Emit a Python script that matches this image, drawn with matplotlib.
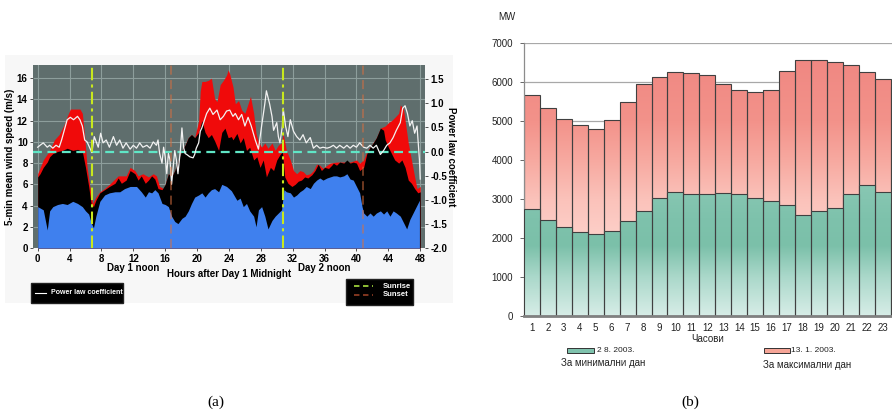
import numpy as np
import matplotlib
matplotlib.use("Agg")
import matplotlib.pyplot as plt
from matplotlib.colors import LinearSegmentedColormap
from matplotlib.patches import Rectangle
from matplotlib.lines import Line2D
from matplotlib import font_manager

# ---------------- data: panel (a) ----------------
blue_hours = [0.0, 0.7, 1.2, 1.5, 1.9, 2.5, 3.1, 3.7, 4.4, 5.0, 5.6, 6.0, 6.4, 6.7, 7.0, 7.3, 7.8, 8.4, 9.0, 9.7,
              10.3, 10.9, 11.6, 12.4, 13.0, 13.5, 13.9, 14.3, 14.7, 15.1, 15.6, 16.0, 16.4, 16.8, 17.2, 17.6, 18.1,
              18.5, 18.9, 19.3, 19.7, 20.2, 20.6, 21.0, 21.4, 21.8, 22.2, 22.7, 23.1, 23.7, 24.3, 25.0, 25.4, 25.8,
              26.2, 26.6, 27.1, 27.4, 27.7, 28.1, 28.5, 28.9, 29.4, 29.8, 30.2, 30.6, 30.9, 31.2, 31.7, 32.1, 32.5,
              32.9, 33.3, 33.7, 34.2, 34.6, 35.0, 35.4, 35.8, 36.3, 36.7, 37.1, 37.5, 37.9, 38.4, 38.8, 39.2, 39.6,
              40.0, 40.4, 40.7, 40.9, 41.3, 41.7, 42.1, 42.5, 43.0, 43.4, 43.8, 44.2, 44.6, 45.0, 45.5, 45.9, 46.3,
              46.7, 47.1, 47.5, 47.9]
blue_speed = [3.9, 3.6, 1.7, 3.5, 3.9, 4.1, 4.2, 4.1, 4.4, 4.2, 3.9, 3.5, 3.2, 2.4, 1.9, 3.0, 4.4, 5.0, 5.2, 5.3,
              5.3, 5.6, 5.8, 5.8, 5.3, 4.8, 5.3, 5.2, 5.5, 5.2, 4.2, 4.1, 3.9, 3.0, 2.5, 2.3, 2.8,
              3.0, 3.5, 4.2, 4.8, 5.0, 5.2, 4.8, 5.2, 5.5, 5.6, 5.3, 6.0, 5.8, 5.4, 4.5, 4.7, 3.9,
              4.2, 3.5, 3.0, 2.0, 3.6, 3.9, 3.0, 1.8, 2.6, 3.0, 3.3, 3.6, 5.5, 5.3, 5.2, 4.8, 5.0,
              5.3, 5.5, 5.8, 5.6, 6.1, 6.4, 6.6, 6.4, 6.6, 6.7, 6.8, 6.8, 6.7, 6.8, 7.0, 6.5, 6.4,
              5.8, 5.2, 3.9, 3.3, 3.0, 3.3, 3.0, 3.3, 3.5, 3.2, 3.5, 3.0, 3.5, 3.3, 3.0, 2.4, 1.8,
              2.7, 3.3, 3.9, 4.5]

black_hours = [0.0, 0.3, 0.7, 1.2, 1.5, 1.9, 2.5, 3.1, 3.7, 4.4, 5.0, 5.6, 6.0, 6.4, 6.7, 7.0, 7.3, 7.8, 8.4, 9.0,
               9.7, 10.1, 10.5, 11.1, 11.6, 12.2, 12.6, 13.0, 13.5, 13.9, 14.3, 14.7, 15.1, 15.6, 16.0, 16.4, 16.8,
               17.2, 17.6, 18.1, 18.5, 18.9, 19.3, 19.7, 20.2, 20.6, 21.0, 21.4, 21.8, 22.2, 22.7, 23.1, 23.5, 23.9,
               24.3, 24.5, 25.0, 25.4, 25.8, 26.2, 26.6, 27.1, 27.5, 27.9, 28.3, 28.7, 29.2, 29.6, 30.0, 30.4, 30.7,
               31.0, 31.4, 31.9, 32.3, 32.7, 33.1, 33.5, 33.9, 34.4, 34.8, 35.2, 35.6, 36.0, 36.5, 36.9, 37.1, 37.5,
               37.9, 38.4, 38.8, 39.2, 39.6, 40.0, 40.4, 40.9, 41.3, 41.7, 42.1, 42.5, 43.0, 43.4, 43.6, 44.0, 44.4,
               44.8, 45.3, 45.7, 46.1, 46.5, 46.9, 47.3, 47.7, 48.0]
black_speed = [6.7, 7.0, 7.6, 8.1, 8.6, 8.9, 9.1, 9.2, 9.4, 9.2, 9.3, 9.1, 7.6, 5.8, 4.2, 3.9, 4.5, 5.2, 5.5, 5.8,
               6.1, 6.6, 6.1, 6.4, 7.3, 7.0, 6.4, 6.8, 6.1, 6.4, 6.8, 6.5, 5.6, 5.5, 6.0, 7.0, 6.7,
               7.3, 8.2, 9.2, 9.7, 10.4, 10.7, 10.4, 10.9, 12.0, 10.9, 10.4, 10.7, 10.1, 9.2, 10.9, 11.3, 10.4,
               10.5, 10.2, 10.8, 9.9, 10.4, 9.2, 9.5, 8.3, 8.6, 7.6, 8.3, 6.7, 7.6, 7.3, 8.3, 8.8, 9.1,
               6.7, 6.1, 5.8, 6.0, 6.3, 6.4, 6.7, 6.6, 6.9, 7.3, 7.9, 7.3, 7.6, 7.5, 7.8, 8.0, 7.8,
               8.1, 8.0, 8.3, 8.0, 8.1, 8.0, 7.3, 7.6, 8.9, 9.5, 9.9, 10.4, 11.3, 11.1, 10.2, 9.5, 8.9,
               8.3, 8.0, 8.3, 7.6, 6.4, 6.1, 5.6, 5.2, 5.3]

red_hours = [0.0, 0.7, 1.5, 2.1, 2.7, 3.3, 3.7, 4.1, 4.7, 5.3, 5.6, 5.9, 6.2, 6.6, 6.9, 7.3, 7.8, 8.4, 9.0, 10.1,
             11.1, 11.6, 12.2, 12.6, 13.2, 13.9, 14.5, 14.9, 15.3, 15.8, 16.0, 16.4, 16.8, 17.2, 17.6, 18.1, 18.5,
             18.9, 19.3, 19.7, 20.2, 20.4, 20.6, 21.0, 21.4, 21.8, 22.2, 22.5, 22.9, 23.3, 23.7, 23.9, 24.1, 24.5,
             24.8, 25.2, 25.6, 26.0, 26.4, 26.7, 27.1, 27.4, 27.7, 28.1, 28.5, 28.9, 29.4, 29.8, 30.2, 30.6, 30.8,
             31.2, 31.7, 32.1, 32.5, 32.9, 33.3, 33.7, 34.2, 34.6, 35.0, 35.4, 35.8, 36.3, 36.7, 37.5, 38.4, 39.2,
             40.0, 40.4, 40.9, 41.3, 41.9, 42.5, 43.0, 43.6, 44.0, 44.4, 44.8, 45.3, 45.5, 45.9, 46.2, 46.5, 46.9,
             47.3, 47.6, 48.0]
red_speed = [7.0, 8.3, 9.2, 10.2, 10.7, 11.6, 12.4, 13.1, 13.1, 13.1, 12.7, 10.5, 7.6, 5.5, 4.2, 4.8, 5.3, 5.6, 6.0, 6.8,
             6.8, 7.6, 7.3, 6.8, 7.0, 6.7, 7.0, 6.8, 5.8, 5.6, 6.0, 7.0, 6.7, 7.3, 8.2, 9.2, 9.7,
             10.4, 10.7, 10.4, 12.0, 14.8, 15.7, 15.7, 15.8, 16.0, 14.1, 13.8, 15.4, 15.8, 16.3, 16.8, 16.4, 15.2,
             13.6, 13.9, 13.0, 12.7, 13.6, 14.3, 12.7, 10.8, 10.0, 9.5, 9.9, 9.4, 9.9, 9.2, 9.7, 9.9, 10.8,
             9.2, 8.3, 7.3, 7.0, 7.3, 7.2, 6.9, 7.0, 7.3, 7.9, 7.8, 7.5, 7.8, 8.0, 8.1, 8.1, 8.1,
             8.3, 8.0, 8.3, 9.1, 9.7, 10.4, 11.3, 11.5, 11.8, 12.0, 12.3, 12.7, 13.5, 13.1, 11.5, 9.9, 8.3,
             6.7, 5.6, 5.8]

pl_hours = [0.0, 0.3, 0.7, 1.2, 1.5, 1.9, 2.3, 2.7, 3.0, 3.3, 3.7, 4.1, 4.5, 5.0, 5.3, 5.6, 5.9, 6.2, 6.5, 6.8,
            7.1, 7.6, 7.9, 8.2, 8.6, 9.0, 9.5, 9.9, 10.3, 10.7, 11.1, 11.6, 12.0, 12.4, 12.8, 13.2, 13.7, 14.1,
            14.5, 14.9, 15.1, 15.3, 15.6, 15.8, 16.0, 16.2, 16.4, 16.6, 16.8, 17.0, 17.2, 17.4, 17.6, 17.9, 18.1,
            18.3, 18.5, 18.7, 19.1, 19.5, 19.7, 19.9, 20.2, 20.4, 20.6, 20.9, 21.2, 21.6, 22.0, 22.5, 22.9, 23.3,
            23.7, 24.1, 24.5, 24.8, 25.2, 25.6, 26.0, 26.4, 26.8, 27.3, 27.7, 28.1, 28.5, 28.7, 29.1, 29.4, 29.6,
            30.0, 30.2, 30.4, 30.7, 30.8, 31.1, 31.4, 31.7, 32.1, 32.5, 32.9, 33.3, 33.7, 34.2, 34.6, 35.0, 35.4,
            35.8, 36.3, 36.7, 37.1, 37.5, 37.9, 38.4, 38.8, 39.2, 39.6, 40.0, 40.4, 40.9, 41.3, 41.7, 42.1, 42.5,
            43.0, 43.4, 43.8, 44.2, 44.6, 45.0, 45.5, 45.8, 46.1, 46.4, 46.7, 47.0, 47.3, 47.6, 47.9, 48.0]
pl_coef = [0.09, 0.13, 0.18, 0.09, 0.13, 0.07, 0.13, 0.09, 0.24, 0.42, 0.66, 0.71, 0.66, 0.73, 0.66, 0.53, 0.24, 0.20,
           0.09, -0.02, 0.31, 0.09, 0.38, 0.18, 0.24, 0.09, 0.31, 0.13, 0.24, 0.07, 0.18, 0.05, 0.13, 0.07, 0.18,
           0.09, 0.13, 0.07, 0.20, 0.13, 0.24, -0.04, -0.24, 0.09, -0.11, -0.46, -0.04, -0.17, -0.68, -0.33, 0.02,
           -0.17, -0.46, 0.02, 0.49, 0.09, -0.04, -0.06, -0.11, -0.13, -0.06, 0.07, 0.18, 0.42, 0.49, 0.64, 0.79,
           0.90, 0.77, 0.86, 0.66, 0.73, 0.84, 0.86, 0.73, 0.79, 0.66, 0.77, 0.53, 0.71, 0.53, 0.24, 0.05, 0.53,
           0.99, 1.26, 0.99, 0.73, 0.44, 0.60, 0.31, 0.18, 0.53, 0.90, 0.53, 0.31, 0.66, 0.42, 0.31, 0.24, 0.35,
           0.18, 0.29, 0.07, 0.13, 0.07, 0.09, 0.07, 0.09, 0.13, 0.07, 0.13, 0.07, 0.13, 0.07, 0.13, 0.09, 0.18,
           0.09, 0.07, 0.13, 0.07, 0.13, -0.06, 0.02, 0.13, 0.18, 0.29, 0.44, 0.60, 0.90, 0.95, 0.79, 0.53, 0.64,
           0.38, 0.53, -0.17, -0.57]

sunrise_hours = [6.8, 30.8]
sunset_hours = [16.7, 40.8]
hour_ticks = [0, 4, 8, 12, 16, 20, 24, 28, 32, 36, 40, 44, 48]
speed_ticks = [0, 2, 4, 6, 8, 10, 12, 14, 16]
pl_ticks = [-2.0, -1.5, -1.0, -0.5, 0.0, 0.5, 1.0, 1.5]

# ---------------- data: panel (b) ----------------
hours_b = list(range(1, 25))
hour_labels_b = list(range(1, 24))   # the 24th label is cut off in the reference
min_day = [2730, 2450, 2280, 2140, 2110, 2170, 2420, 2680, 3020, 3170, 3120, 3120, 3140, 3120, 3020, 2940,
           2850, 2590, 2680, 2770, 3120, 3350, 3170, 2900]
max_day = [5670, 5335, 5045, 4900, 4795, 5020, 5490, 5935, 6135, 6255, 6230, 6170, 5935, 5790, 5730, 5790,
           6280, 6565, 6555, 6510, 6425, 6245, 6075, 5860]
mw_ticks = [0, 1000, 2000, 3000, 4000, 5000, 6000, 7000]

# ---------------- figure ----------------
W, H = 892, 413
fig = plt.figure(figsize=(W / 100, H / 100), dpi=100)


def fx(x):
    return x / W


def fy(y):
    return 1 - y / H


names = {f.name for f in font_manager.fontManager.ttflist}
NARROW = ['Liberation Sans Narrow', 'Liberation Sans', 'DejaVu Sans'] if 'Liberation Sans Narrow' in names \
    else ['Liberation Sans', 'DejaVu Sans']
SANS = ['Liberation Sans', 'DejaVu Sans']
SERIF = ['Liberation Serif', 'DejaVu Serif']

# faint panel background of (a)
fig.add_artist(Rectangle((fx(5), fy(303)), (453 - 5) / W, (303 - 55) / H, transform=fig.transFigure,
                         facecolor='#f7f7f7', edgecolor='none', zorder=-5))

# ---- panel (a)
ax1 = fig.add_axes([fx(33.3), fy(248), (425 - 33.3) / W, (248 - 65) / H])
ax1.set_facecolor('#5f6e6d')
ax1.set_xlim(-0.55, 48.6)
ax1.set_ylim(0, 17.25)
ax1.set_xticks(hour_ticks)
ax1.set_yticks(speed_ticks)
ax1.grid(True, color='#8d9e9c', linewidth=0.8)
ax1.set_axisbelow(True)
ax1.fill_between(red_hours, 0, red_speed, color='#f00a0a', linewidth=0, zorder=2)
ax1.fill_between(black_hours, 0, black_speed, color='#000000', linewidth=0, zorder=3)
ax1.fill_between(blue_hours, 0, blue_speed, color='#3f80ee', linewidth=0, zorder=4)
for s in ax1.spines.values():
    s.set_visible(False)
ax1.tick_params(axis='both', length=2, width=0.6, color='#333333', labelsize=7, pad=2)
for lab in ax1.get_xticklabels() + ax1.get_yticklabels():
    lab.set_fontfamily(NARROW)
    lab.set_fontweight('bold')
ax1.set_ylabel('5-min mean wind speed (m/s)', fontsize=7, fontweight='bold', family=NARROW, labelpad=1)

ax2 = ax1.twinx()
ax2.set_ylim(-2.0, -2.0 + 17.25 * 0.22)
ax2.set_yticks(pl_ticks)
ax2.set_yticklabels([f'{v:.1f}' for v in pl_ticks])
for s in ax2.spines.values():
    s.set_visible(False)
ax2.tick_params(axis='y', length=2, width=0.6, color='#333333', labelsize=7, pad=2)
for lab in ax2.get_yticklabels():
    lab.set_fontfamily(NARROW)
    lab.set_fontweight('bold')
ax2.set_ylabel('Power law coefficient', rotation=270, fontsize=7, fontweight='bold', family=NARROW, labelpad=6)
ax2.axhline(0.0, color='#5fe6c6', linewidth=1.6, linestyle=(0, (4, 2.5)), zorder=5)
ax2.plot(pl_hours, pl_coef, color='#f2f2f2', linewidth=0.9, zorder=6)
for h in sunset_hours:
    ax2.axvline(h, color='#d9703f', linewidth=1.3, linestyle=(0, (5, 3)), alpha=0.55, zorder=7)
for h in sunrise_hours:
    ax2.axvline(h, color='#c8e81e', linewidth=1.5, linestyle=(0, (6, 2, 1.5, 2)), zorder=7)

ax1.text(12, -1.45, 'Day 1 noon', ha='center', va='top', fontsize=7, fontweight='bold', family=NARROW,
         transform=ax1.transData)
ax1.text(36, -1.45, 'Day 2 noon', ha='center', va='top', fontsize=7, fontweight='bold', family=NARROW,
         transform=ax1.transData)
ax1.text(24, -2.0, 'Hours after Day 1 Midnight', ha='center', va='top', fontsize=7, fontweight='bold',
         family=NARROW, transform=ax1.transData)

# legend boxes of (a)
fig.add_artist(Rectangle((fx(31), fy(303)), (123 - 31) / W, (303 - 283) / H, transform=fig.transFigure,
                         facecolor='#000000', edgecolor='#222222', zorder=5))
fig.add_artist(Line2D([fx(35), fx(46)], [fy(293), fy(293)], transform=fig.transFigure, color='white',
                      linewidth=0.8, zorder=6))
fig.text(fx(51), fy(293), 'Power law coefficient', color='white', fontsize=5, fontweight='bold',
         family=NARROW, ha='left', va='center', zorder=6)
fig.add_artist(Rectangle((fx(346), fy(305)), (413 - 346) / W, (305 - 279) / H, transform=fig.transFigure,
                         facecolor='#000000', edgecolor='#222222', zorder=5))
fig.add_artist(Line2D([fx(354), fx(373)], [fy(286), fy(286)], transform=fig.transFigure, color='#9ccf3a',
                      linewidth=1.3, linestyle=(0, (3, 2)), zorder=6))
fig.add_artist(Line2D([fx(354), fx(373)], [fy(294.5), fy(294.5)], transform=fig.transFigure, color='#8a3a22',
                      linewidth=1.3, linestyle=(0, (3, 2)), zorder=6))
fig.text(fx(383), fy(286), 'Sunrise', color='white', fontsize=5.5, fontweight='bold', family=NARROW,
         ha='left', va='center', zorder=6)
fig.text(fx(383), fy(294.5), 'Sunset', color='white', fontsize=5.5, fontweight='bold', family=NARROW,
         ha='left', va='center', zorder=6)

# ---- panel (b)
bw = 15.94
ax3 = fig.add_axes([fx(524), fy(315.7), 24.1 * bw / W, (315.7 - 43) / H])
red_cmap = LinearSegmentedColormap.from_list('redg', [
    (0.0, '#fdd6cf'), (0.286, '#fdd0c9'), (0.429, '#fbc2ba'), (0.571, '#f7a9a0'),
    (0.714, '#f3928a'), (1.0, '#ef8580')])
green_cmap = LinearSegmentedColormap.from_list('greeng', [
    (0.0, '#d7ede7'), (0.143, '#aad8ca'), (0.257, '#7bc0a9'), (0.357, '#7ec2ac'),
    (0.5, '#8ac8b4'), (1.0, '#8ac8b4')])
grad = np.linspace(0, 1, 256).reshape(-1, 1)


def gradient_bars(ax, xs, vals, cmap, z):
    bars = ax.bar(xs, vals, width=1.0, color='none', edgecolor='#404040', linewidth=0.8, zorder=z + 0.5)
    for b in bars:
        im = ax.imshow(grad, cmap=cmap, origin='lower', extent=[0.5, 25.5, 0, 7000], aspect='auto',
                       interpolation='bilinear', zorder=z)
        im.set_clip_path(b)
    return bars


gradient_bars(ax3, hours_b, max_day, red_cmap, 2)
gradient_bars(ax3, hours_b, min_day, green_cmap, 3)
ax3.set_xlim(0.5, 24.6)
ax3.set_ylim(0, 7000)
ax3.set_yticks(mw_ticks)
ax3.set_xticks(hour_labels_b)
ax3.grid(True, axis='y', color='#a8a8a8', linewidth=0.9)
ax3.set_axisbelow(True)
for k in ['top', 'right']:
    ax3.spines[k].set_visible(False)
ax3.spines['left'].set_color('#8c8c8c')
ax3.spines['left'].set_linewidth(0.9)
ax3.spines['bottom'].set_color('#808080')
ax3.spines['bottom'].set_linewidth(2.0)
ax3.spines['bottom'].set_zorder(6)
ax3.tick_params(axis='y', length=3, width=0.7, color='#666666', labelsize=7, labelcolor='#222222', pad=5)
ax3.tick_params(axis='x', length=0, labelsize=7, labelcolor='#222222', pad=5)
for lab in ax3.get_xticklabels() + ax3.get_yticklabels():
    lab.set_fontfamily(SANS)

fig.text(fx(507), fy(17), 'MW', fontsize=7, family=SANS, color='#222222', ha='center', va='center')
fig.text(fx(708), fy(339), 'Часови', fontsize=7, family=SANS, color='#222222', ha='center', va='center')
fig.add_artist(Rectangle((fx(567), fy(353)), (594 - 567) / W, 5 / H, transform=fig.transFigure,
                         facecolor='#7fc2ad', edgecolor='#333333', linewidth=0.7))
fig.text(fx(597), fy(350.5), '2 8. 2003.', fontsize=6, family=SANS, color='#222222', ha='left', va='center')
fig.add_artist(Rectangle((fx(764), fy(353)), (790 - 764) / W, 5 / H, transform=fig.transFigure,
                         facecolor='#f6a597', edgecolor='#333333', linewidth=0.7))
fig.text(fx(791), fy(350.5), '13. 1. 2003.', fontsize=6, family=SANS, color='#222222', ha='left', va='center')
fig.text(fx(603), fy(363), 'За минимални дан', fontsize=7, family=SANS, color='#222222', ha='center',
         va='center')
fig.text(fx(807), fy(365), 'За максимални дан', fontsize=7, family=SANS, color='#222222', ha='center',
         va='center')

# captions
fig.text(fx(216), fy(402), '(a)', fontsize=11, family=SERIF, color='black', ha='center', va='center')
fig.text(fx(690), fy(402), '(b)', fontsize=11, family=SERIF, color='black', ha='center', va='center')

fig.savefig('out.png', dpi=100)
